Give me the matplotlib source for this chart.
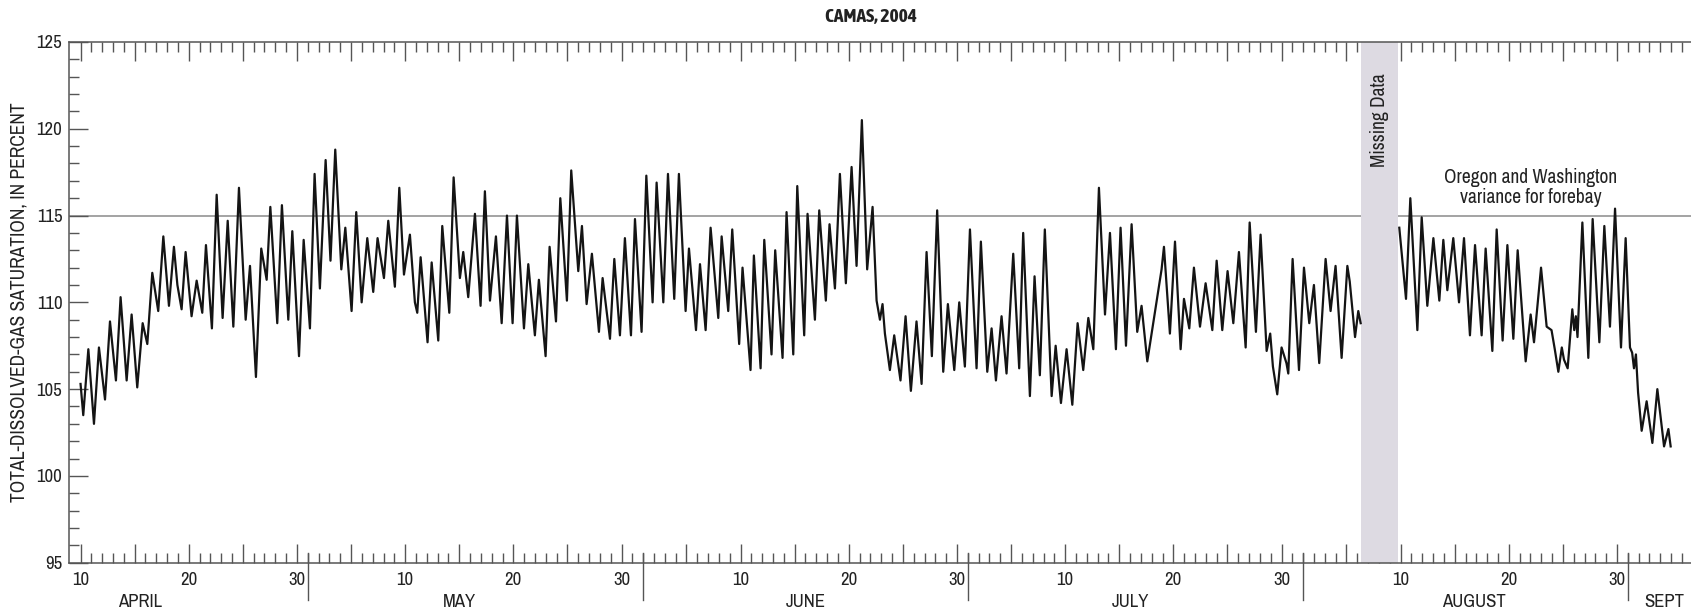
import numpy as np
import matplotlib
matplotlib.use('Agg')
from matplotlib import pyplot as plt
from matplotlib import font_manager as fm

# pick a narrow face if one is installed (the original uses a condensed sans)
names = set(f.name for f in fm.fontManager.ttflist)
narrow = [f for f in fm.fontManager.ttflist if 'Narrow' in f.name or 'Condensed' in f.name]
if 'Liberation Sans Narrow' in names:
    plt.rcParams['font.family'] = ['Liberation Sans Narrow', 'DejaVu Sans']
elif narrow:
    plt.rcParams['font.family'] = [narrow[0].name, 'DejaVu Sans']
else:
    plt.rcParams['font.family'] = ['DejaVu Sans']
    plt.rcParams['font.stretch'] = 'condensed'

bold_narrow = [f for f in narrow if f.weight in ('bold', 700, 'heavy', 800, 'semibold', 600)]
if bold_narrow:
    title_font = fm.FontProperties(fname=bold_narrow[0].fname, size=14)
else:
    title_font = fm.FontProperties(size=14, weight='bold')

# time in days after 2004-04-10 00:00, total-dissolved-gas saturation (percent)
days_a = [0, 0.25, 0.72, 1.24, 1.7, 2.26, 2.72, 3.27, 3.7, 4.26, 4.72, 5.24, 5.74, 6.17, 6.63,
          7.18, 7.65, 8.17, 8.63, 8.95, 9.34, 9.71, 10.26, 10.73, 11.25, 11.59, 12.14, 12.58,
          13.13, 13.6, 14.12, 14.64, 15.26, 15.66, 16.21, 16.7, 17.2, 17.54, 18.18, 18.61,
          19.2, 19.57, 20.19, 20.62, 21.2, 21.63, 22.12, 22.65, 23.1, 23.54, 24.1, 24.47,
          25.05, 25.48, 25.98, 26.5, 27.05, 27.45, 28.04, 28.44,
          29.05, 29.46, 29.89, 30.44, 30.9, 31.12, 31.43, 32.07, 32.45, 33.06, 33.43, 34.08,
          34.48, 35.06, 35.37, 35.83, 36.45, 36.97, 37.37, 37.84, 38.39, 38.92, 39.41, 39.93,
          40.33, 40.98, 41.38, 41.99, 42.36, 42.98, 43.35, 43.94, 44.34, 44.95, 45.35, 46.0,
          46.34, 46.77, 47.26, 47.91, 48.25, 48.93, 49.33, 49.85, 50.31, 50.87, 51.24, 51.85,
          52.29, 52.87, 53.24, 53.86, 54.29, 54.87, 55.3, 55.92, 56.23, 56.88, 57.25, 57.77,
          58.23, 58.94, 59.25, 59.86,
          60.23, 60.87, 61.18, 61.92, 62.23, 62.85, 63.19, 63.86, 64.2, 64.88, 65.25, 65.87,
          66.24, 66.88, 67.19, 67.87, 68.27, 68.88, 69.22, 69.72, 70.18, 70.73, 71.26, 71.72,
          72.21, 72.7, 73.2, 73.57, 73.88, 74.12, 74.34, 74.8, 75.2, 75.78, 76.25, 76.74,
          77.26, 77.73, 78.19, 78.68, 79.17, 79.73, 80.16, 80.75, 81.21, 81.73, 82.2, 82.81,
          83.21, 83.8, 84.2, 84.6, 85.12, 85.58, 86.2, 86.75, 87.12, 87.74, 88.17, 88.66, 89.12,
          89.75, 90.12, 90.61, 91.13, 91.66, 92.15, 92.67, 93.14, 93.6, 94.12, 94.68, 95.14,
          95.69, 96.12, 96.62, 97.14, 97.66, 98.06, 98.59, 99.91, 100.13, 100.68, 101.15,
          101.67, 101.98, 102.47, 102.9, 103.46, 103.98, 104.6, 105.0, 105.52, 106.01, 106.54,
          107.06, 107.68, 108.05, 108.63, 109.06, 109.62, 109.95, 110.2, 110.6, 111.0, 111.45,
          111.62, 112.02, 112.61, 113.07, 113.56, 113.99, 114.48, 115.07, 115.53, 115.99,
          116.55, 117.08, 117.3, 117.79, 118.09, 118.31]
tdg_a = [105.3, 103.5, 107.3, 103.0, 107.4, 104.4, 108.9, 105.5, 110.3, 105.5, 109.3, 105.1, 108.8, 107.6, 111.7,
         109.5, 113.8, 109.8, 113.2, 111.0, 109.6, 112.9, 109.2, 111.25, 109.4, 113.3, 108.5, 116.2,
         109.1, 114.7, 108.6, 116.6, 109.0, 112.1, 105.7, 113.1, 111.3, 115.5, 108.8, 115.6,
         109.0, 114.1, 106.9, 113.6, 108.5, 117.4, 110.8, 118.2, 112.4, 118.8, 111.9, 114.3,
         109.5, 115.2, 110.0, 113.7, 110.6, 113.7, 111.4, 114.7,
         110.9, 116.6, 111.6, 113.9, 110.0, 109.4, 112.6, 107.7, 112.3, 107.8, 114.4, 109.4,
         117.2, 111.4, 112.9, 110.3, 115.1, 109.8, 116.4, 110.1, 113.8, 108.8, 115.0, 108.8,
         115.0, 108.5, 112.2, 108.1, 111.3, 106.9, 113.2, 108.9, 116.0, 110.1, 117.6, 111.8,
         114.4, 109.9, 112.8, 108.3, 111.4, 107.9, 112.5, 108.1, 113.7, 108.1, 114.8, 108.3,
         117.3, 110.0, 116.9, 110.0, 117.4, 110.2, 117.4, 109.5, 113.1, 108.4, 112.2, 108.4,
         114.3, 109.1, 113.8, 109.5,
         114.2, 107.6, 112.0, 106.1, 112.7, 106.2, 113.6, 107.0, 113.0, 106.8, 115.2, 107.0,
         116.7, 108.1, 115.1, 109.0, 115.3, 110.1, 114.5, 110.8, 117.4, 111.1, 117.8, 112.1,
         120.5, 111.9, 115.5, 110.1, 109.0, 109.9, 108.2, 106.1, 108.1, 105.5, 109.2, 104.9,
         108.9, 105.3, 112.9, 106.9, 115.3, 106.0, 109.9, 106.1, 110.0, 106.3, 114.2, 106.2,
         113.5, 106.0, 108.5, 105.5, 109.2, 105.9, 112.8, 106.2, 114.0, 104.6, 111.5, 105.8, 114.2,
         104.6, 107.5, 104.2, 107.3, 104.1, 108.8, 106.1, 109.1, 107.3, 116.6, 109.3, 114.0,
         107.3, 114.3, 107.5, 114.5, 108.3, 109.8, 106.6, 111.9, 113.2, 108.2, 113.5,
         107.3, 110.2, 108.5, 112.0, 108.6, 111.1, 108.4, 112.4, 108.4, 111.8, 108.8,
         112.9, 107.4, 114.6, 108.3, 113.9, 107.2, 108.2, 106.3, 104.7, 107.4, 106.5,
         105.9, 112.5, 106.1, 112.0, 108.8, 111.0, 106.5, 112.5, 109.5, 112.1,
         106.8, 112.1, 111.2, 108.0, 109.5, 108.8]

days_b = [121.88, 122.5, 122.9, 123.55, 123.95, 124.47, 125.03, 125.58, 125.95, 126.32, 126.87,
          127.4, 127.86, 128.41, 128.88, 129.49, 129.86, 130.48, 130.88, 131.43, 131.87, 132.42,
          132.82, 133.56, 134.02, 134.33, 134.98, 135.5, 135.95, 136.25, 136.58, 136.9, 137.1,
          137.44, 137.87, 138.05, 138.2, 138.35, 138.8, 139.35, 139.75, 140.37, 140.83, 141.35,
          141.82, 142.37, 142.8, 143.2, 143.4, 143.57, 143.75, 143.95, 144.28, 144.74, 145.27,
          145.73, 146.35, 146.75, 146.96]
tdg_b = [114.3, 110.2, 116.0, 108.4, 114.9, 109.8, 113.7, 110.1, 113.6, 110.7, 113.7,
         110.0, 113.7, 108.1, 113.3, 108.1, 113.1, 107.2, 114.2, 107.8, 113.3, 107.9,
         113.0, 106.6, 109.3, 107.7, 112.0, 108.6, 108.4, 107.3, 106.0, 107.4, 106.7,
         106.2, 109.6, 108.4, 109.2, 108.0, 114.6, 106.8, 114.8, 107.7, 114.4, 108.6,
         115.4, 107.4, 113.7, 107.4, 107.1, 106.2, 107.0, 104.8, 102.6, 104.3, 101.9,
         105.0, 101.7, 102.7, 101.7]

missing = (118.31, 121.8)
variance = 115

month_names = ['APRIL', 'MAY', 'JUNE', 'JULY', 'AUGUST', 'SEPT']
month_label_pos = [5.5, 35.0, 67.0, 97.0, 128.8, 146.4]
month_breaks = [21, 52, 82, 113, 143]
day_labels = ['10', '20', '30'] * 5
day_label_pos = [0, 10, 20, 30, 40, 50, 61, 71, 81, 91, 101, 111, 122, 132, 142]

# long ticks every 5th of the month, short ones every day
start = np.datetime64('2004-04-10')
all_days = start + np.arange(0, 149)
dom = np.array([int(str(d)[8:10]) for d in all_days])
dnum = np.arange(0, 149)
major = dnum[(dom % 5 == 0) & (dnum <= 142)]

fig = plt.figure(figsize=(16.91, 6.15), dpi=100)
ax = fig.add_axes([69.3 / 1691, 52.3 / 615, 1 - 69.3 / 1691, 520.7 / 615])

ax.axhline(variance, color='#8a8a8a', lw=1.1, zorder=1)
ax.axvspan(missing[0], missing[1], color='#dddae2', lw=0, zorder=2)
ax.plot(days_a, tdg_a, color='#141414', lw=1.6, zorder=3, solid_joinstyle='round')
ax.plot(days_b, tdg_b, color='#141414', lw=1.6, zorder=3, solid_joinstyle='round')

ax.set_xlim(-1.04, 148.84)
ax.set_ylim(95, 125)

for s in ['left', 'top', 'bottom']:
    ax.spines[s].set_color('#555555')
    ax.spines[s].set_linewidth(1.1)
ax.spines['right'].set_visible(False)

ax.set_xticks(major)
ax.set_xticks(dnum, minor=True)
ax.set_yticks(np.arange(95, 126, 5))
ax.set_yticks(np.arange(95, 126, 1), minor=True)
ax.tick_params(axis='x', which='both', direction='in', top=True, bottom=True,
               labelbottom=False, color='#555555', width=1.0)
ax.tick_params(axis='x', which='major', length=14)
ax.tick_params(axis='x', which='minor', length=7.5)
ax.tick_params(axis='y', which='both', direction='in', left=True, right=False,
               color='#555555', width=1.0, labelsize=13.5, pad=5, labelcolor='#222222')
ax.tick_params(axis='y', which='major', length=14)
ax.tick_params(axis='y', which='minor', length=7.5)

xt = ax.get_xaxis_transform()
for p, lab in zip(day_label_pos, day_labels):
    ax.text(p, -0.033, lab, transform=xt, ha='center', va='center', fontsize=13.5, color='#222222')
for p, lab in zip(month_label_pos, month_names):
    ax.text(p, -0.075, lab, transform=xt, ha='center', va='center', fontsize=13.5, color='#222222')
for b in month_breaks:
    ax.plot([b, b], [0.018, -0.072], transform=xt, color='#555555', lw=1.0, clip_on=False)

ax.text(sum(missing) / 2, 123.2, 'Missing Data', rotation=90, ha='center', va='top',
        fontsize=14, color='#222222', zorder=4)
ax.text(134.0, 116.6, 'Oregon and Washington\nvariance for forebay', ha='center', va='center',
        fontsize=14, color='#222222', linespacing=1.05)

fig.text(0.515, 1 - 17 / 615, 'CAMAS, 2004', ha='center', va='center',
         fontproperties=title_font, color='#222222')
fig.text(19.4 / 1691, 1 - 302 / 615, 'TOTAL-DISSOLVED-GAS SATURATION, IN PERCENT', rotation=90,
         ha='center', va='center', fontsize=14, color='#222222')

fig.savefig('out.png', dpi=100)
